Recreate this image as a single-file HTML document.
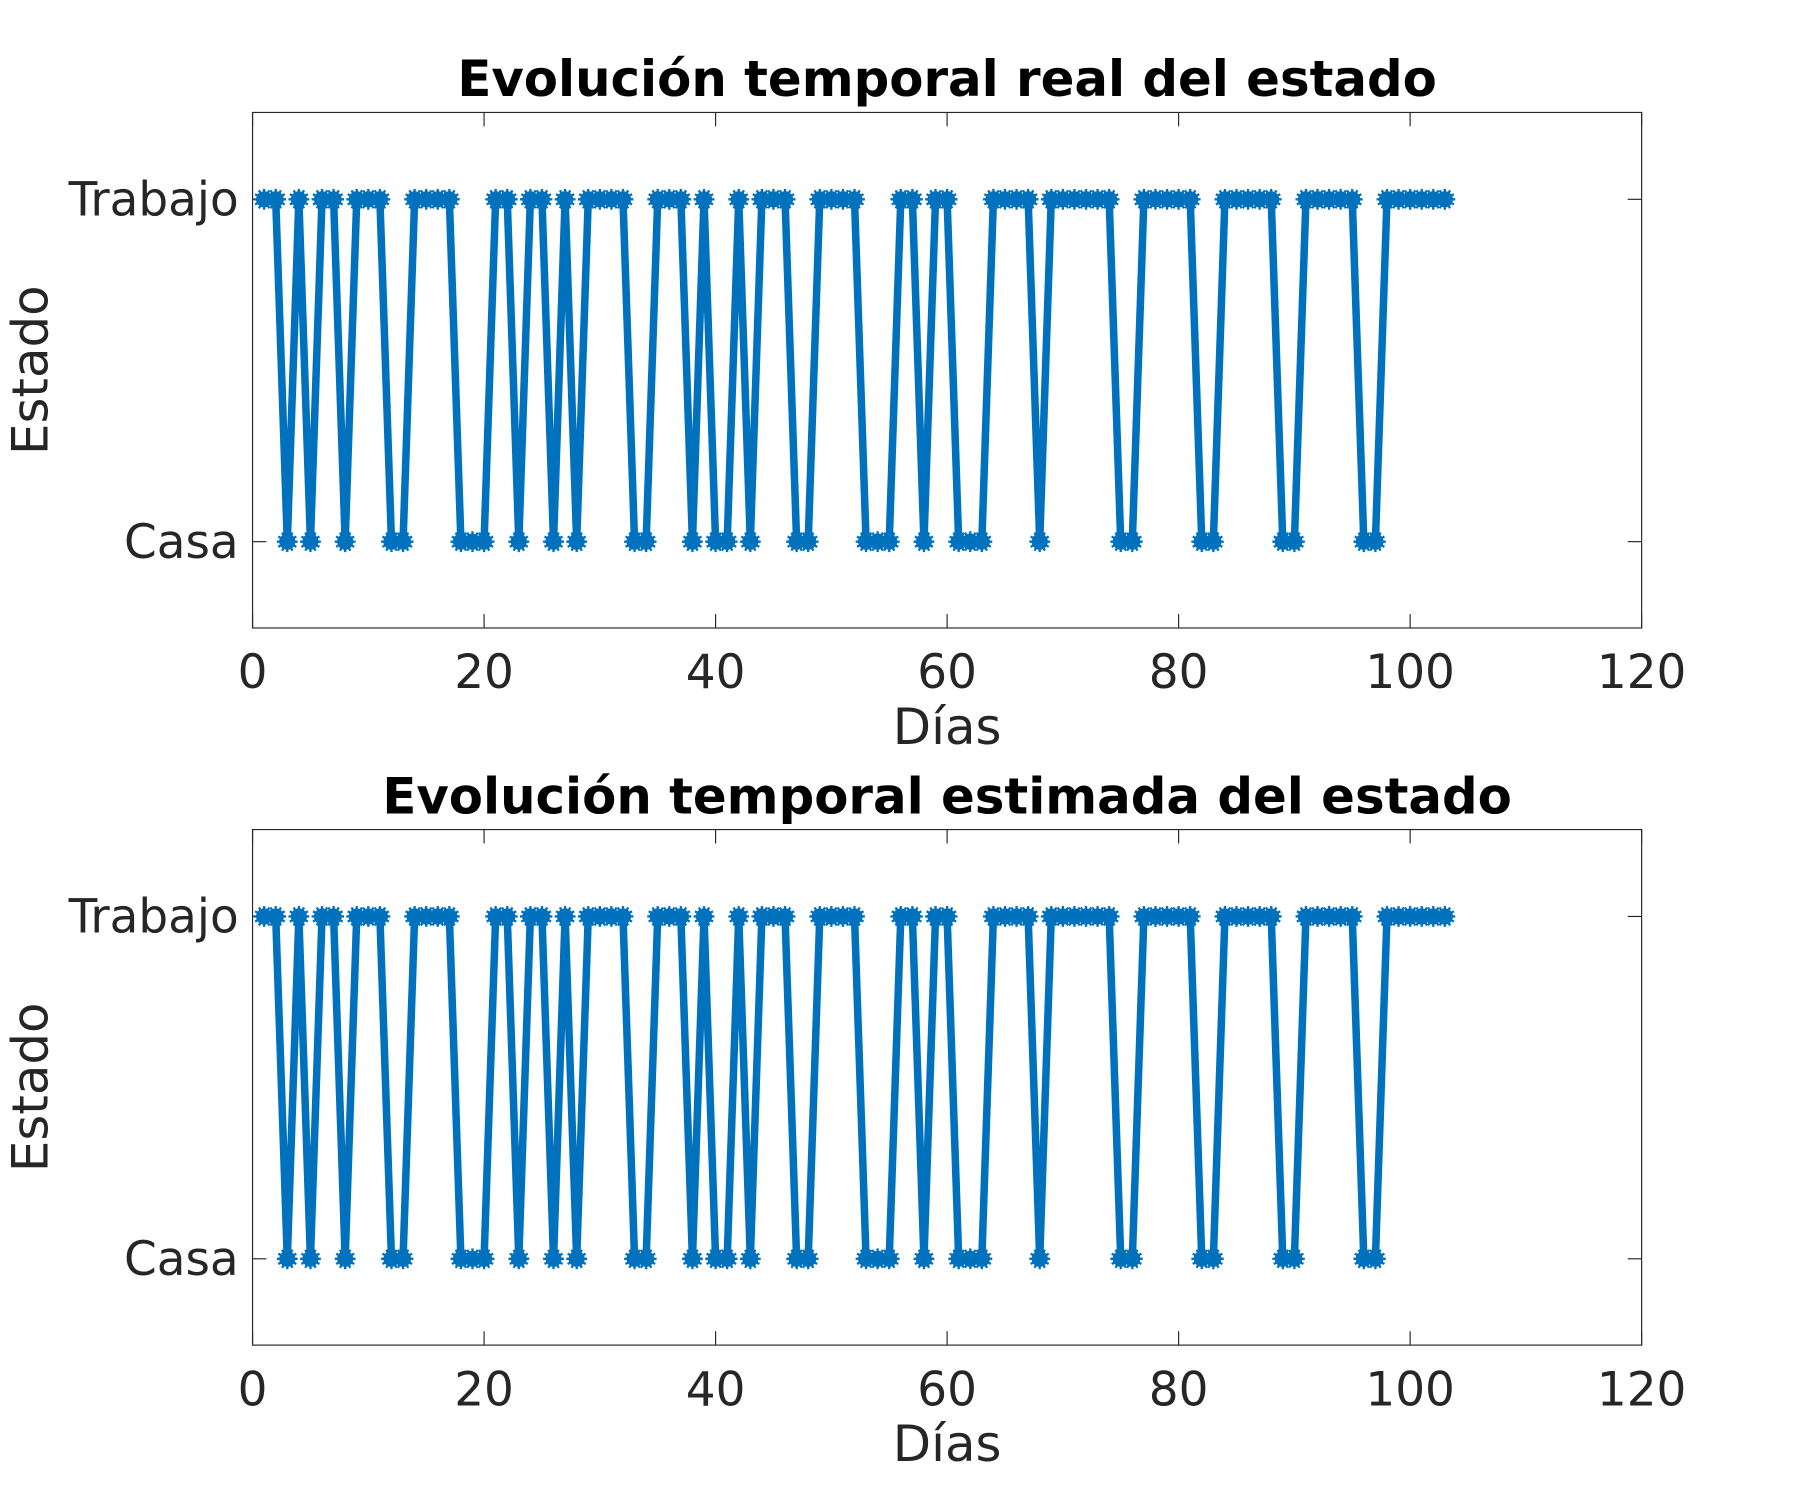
<!DOCTYPE html>
<html><head><meta charset="utf-8"><style>
html,body{margin:0;padding:0;background:#fff;}
svg{display:block;}
text{font-family:"DejaVu Sans","Liberation Sans",sans-serif;fill:#262626;}
</style></head><body>
<svg id="fig" width="1816" height="1512" viewBox="0 0 1567.5 1305" xmlns="http://www.w3.org/2000/svg"></svg>
<script>
const days = Array.from({length:103},(_,i)=>i+1);
const casaDays = [3,5,8,12,13,18,19,20,23,26,28,33,34,38,40,41,43,47,48,53,54,55,58,61,62,63,68,75,76,82,83,89,90,96,97];
const realStates = days.map(d=>casaDays.includes(d)?1:2);
const estStates = days.map(d=>casaDays.includes(d)?1:2);
const xTicks = [0,20,40,60,80,100,120];
const yTickVals = [1,2];
const yTickLabels = ["Casa","Trabajo"];
const titles = ["Evolución temporal real del estado","Evolución temporal estimada del estado"];

const NS="http://www.w3.org/2000/svg";
const svg=document.getElementById('fig');
function mk(tag,attrs,parent){const e=document.createElementNS(NS,tag);for(const k in attrs)e.setAttribute(k,attrs[k]);(parent||svg).appendChild(e);return e;}

function drawPanel(top, series, title, idx){
  const L=218,R=1417,T=top,B=top+445;
  const g=mk('g',{});
  
  
  const xS=v=>L+(v-0)/(120-0)*(R-L);
  const yS=v=>(T+75)+(2-v)*(295.5);
  const box=mk('rect',{x:L,y:T,width:R-L,height:B-T,fill:'none',stroke:'#262626','stroke-width':1},g);
  
  
  xTicks.forEach(t=>{
    const x=xS(t);
    mk('line',{x1:x,y1:B,x2:x,y2:B-12,stroke:'#262626','stroke-width':1},g);
    mk('line',{x1:x,y1:T,x2:x,y2:T+12,stroke:'#262626','stroke-width':1},g);
    const tx=mk('text',{x:x,y:B+52,'font-size':40.5,'text-anchor':'middle'},g);
    tx.textContent=t;
    
    
  });
  yTickVals.forEach((v,i)=>{
    const y=yS(v);
    mk('line',{x1:L,y1:y,x2:L+12,y2:y,stroke:'#262626','stroke-width':1},g);
    mk('line',{x1:R,y1:y,x2:R-12,y2:y,stroke:'#262626','stroke-width':1},g);
    const tx=mk('text',{x:L-12,y:y+14,'font-size':40.5,'text-anchor':'end'},g);
    tx.textContent=yTickLabels[i];
    
    
  });
  const tt=mk('text',{x:(L+R)/2,y:T-14,'font-size':43,'font-weight':'bold','text-anchor':'middle',style:'fill:#000'},g);
  tt.textContent=title;
  
  
  const xl=mk('text',{x:(L+R)/2,y:B+100,'font-size':43,'text-anchor':'middle'},g);
  xl.textContent='Días';
  
  
  const yl=mk('text',{x:0,y:0,'font-size':43,'text-anchor':'middle',transform:`translate(41,${(T+B)/2}) rotate(-90)`},g);
  yl.textContent='Estado';
  
  
  const pts=days.map((d,i)=>xS(d)+','+yS(series[i])).join(' ');
  const pl=mk('polyline',{points:pts,fill:'none',stroke:'#0072BD','stroke-width':6.5,'stroke-linejoin':'round'},g);
  
  
  days.forEach((d,i)=>{
    const cx=xS(d),cy=yS(series[i]);
    const m=mk('g',{},g);
    
    
    mk('circle',{cx:cx,cy:cy,r:7,fill:'#0072BD'},m);
    for(let a=0;a<6;a++){
      const ang=a*Math.PI/6;
      mk('line',{x1:cx-9*Math.cos(ang),y1:cy-9*Math.sin(ang),x2:cx+9*Math.cos(ang),y2:cy+9*Math.sin(ang),stroke:'#0072BD','stroke-width':2},m);
    }
  });
}
drawPanel(97, realStates, titles[0], 0);
drawPanel(716, estStates, titles[1], 1);
</script>
</body></html>
